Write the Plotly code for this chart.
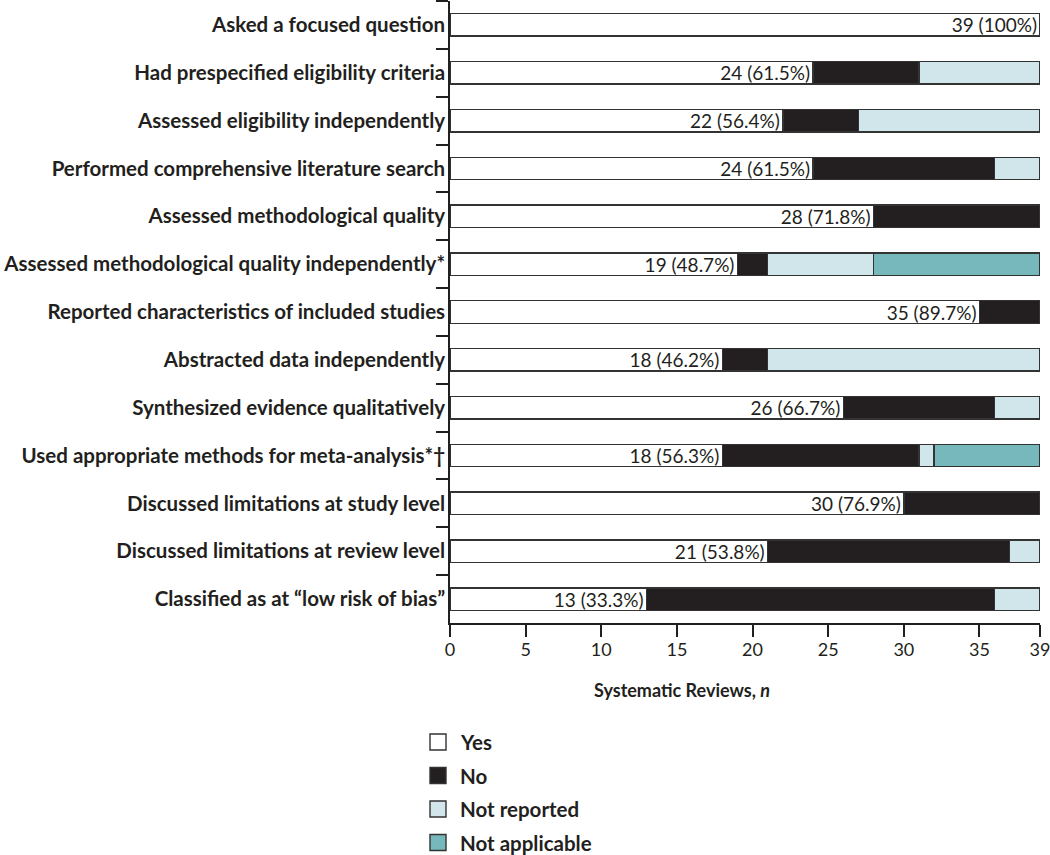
import plotly.graph_objects as go

categories = [
    "Asked a focused question",
    "Had prespecified eligibility criteria",
    "Assessed eligibility independently",
    "Performed comprehensive literature search",
    "Assessed methodological quality",
    "Assessed methodological quality independently*",
    "Reported characteristics of included studies",
    "Abstracted data independently",
    "Synthesized evidence qualitatively",
    "Used appropriate methods for meta-analysis*†",
    "Discussed limitations at study level",
    "Discussed limitations at review level",
    "Classified as at “low risk of bias”",
]
yes_vals = [39, 24, 22, 24, 28, 19, 35, 18, 26, 18, 30, 21, 13]
no_vals = [0, 7, 5, 12, 11, 2, 4, 3, 10, 13, 9, 16, 23]
nr_vals = [0, 8, 12, 3, 0, 7, 0, 18, 3, 1, 0, 2, 3]
na_vals = [0, 0, 0, 0, 0, 11, 0, 0, 0, 7, 0, 0, 0]
yes_labels = ["39 (100%)", "24 (61.5%)", "22 (56.4%)", "24 (61.5%)", "28 (71.8%)",
              "19 (48.7%)", "35 (89.7%)", "18 (46.2%)", "26 (66.7%)", "18 (56.3%)",
              "30 (76.9%)", "21 (53.8%)", "13 (33.3%)"]
series_names = ["Yes", "No", "Not reported", "Not applicable"]
x_ticks = [0, 5, 10, 15, 20, 25, 30, 35, 39]
x_title = "<b>Systematic Reviews, <i>n</i></b>"

FONT = "Lato"
DARK = "#231f20"
EDGE = "#333333"
COLORS = ["#ffffff", DARK, "#d0e6ea", "#76b8bc"]

W, H = 1050, 855
ML, MR, MT, MB = 450, 10, 1, 232
PW, PH = W - ML - MR, H - MT - MB


def px_to_paper(px, py):
    return (px - ML) / PW, (H - MB - py) / PH


fig = go.Figure()
all_vals = [yes_vals, no_vals, nr_vals, na_vals]
for name, vals, col in zip(series_names, all_vals, COLORS):
    kw = {}
    if name == "Yes":
        kw = dict(text=yes_labels, textposition="inside", insidetextanchor="end",
                  textangle=0, constraintext="none",
                  textfont=dict(family=FONT, size=19, color=DARK))
    fig.add_trace(go.Bar(
        y=categories, x=vals, name=name, orientation="h",
        marker=dict(color=col, line=dict(color=EDGE, width=1.4)),
        width=0.47, hoverinfo="skip", showlegend=False, **kw))

# legend drawn as shapes + annotations
shapes, annotations = [], []
for i, (name, col) in enumerate(zip(series_names, COLORS)):
    cy = 742 + i * 33.5
    x0, y0 = px_to_paper(430, cy + 8)
    x1, y1 = px_to_paper(446, cy - 8)
    shapes.append(dict(type="rect", xref="paper", yref="paper", x0=x0, y0=y0, x1=x1, y1=y1,
                       fillcolor=col, line=dict(color=EDGE, width=1.4)))
    tx, ty = px_to_paper(458, cy)
    annotations.append(dict(text=f"<b>{name}</b>", xref="paper", yref="paper", x=tx, y=ty,
                            xanchor="left", yanchor="middle", showarrow=False,
                            font=dict(family=FONT, size=20.5, color=DARK)))
tx, ty = px_to_paper(682, 690)
annotations.append(dict(text=x_title, xref="paper", yref="paper", x=tx, y=ty,
                        xanchor="center", yanchor="middle", showarrow=False,
                        font=dict(family=FONT, size=18, color=DARK)))

fig.update_layout(
    barmode="stack",
    width=W, height=H,
    margin=dict(l=ML, r=MR, t=MT, b=MB),
    plot_bgcolor="white", paper_bgcolor="white",
    font=dict(family=FONT, color=DARK),
    showlegend=False,
    shapes=shapes,
    annotations=annotations,
)
fig.update_xaxes(
    range=[0, 39], tickvals=x_ticks, ticktext=[str(v) for v in x_ticks],
    showgrid=False, zeroline=False, showline=True, linecolor=DARK, linewidth=1.5,
    ticks="outside", ticklen=12, tickcolor=DARK, tickwidth=1.5,
    ticklabelstandoff=-2, ticklabeloverflow="allow", automargin=False,
    tickfont=dict(family=FONT, size=18, color=DARK),
)
fig.update_yaxes(
    categoryorder="array", categoryarray=categories, autorange="reversed",
    showgrid=False, zeroline=False, showline=True, linecolor=DARK, linewidth=1.5,
    ticks="outside", ticklen=12, tickcolor=DARK, tickwidth=1.5, tickson="boundaries",
    ticklabelstandoff=-1, automargin=False,
    tickfont=dict(family=FONT, size=20.5, color=DARK, weight="bold"),
)

fig.write_html(
    "out.html",
    config={"displayModeBar": False},
    post_script="document.body.style.margin='0';document.body.style.overflow='hidden';",
)
